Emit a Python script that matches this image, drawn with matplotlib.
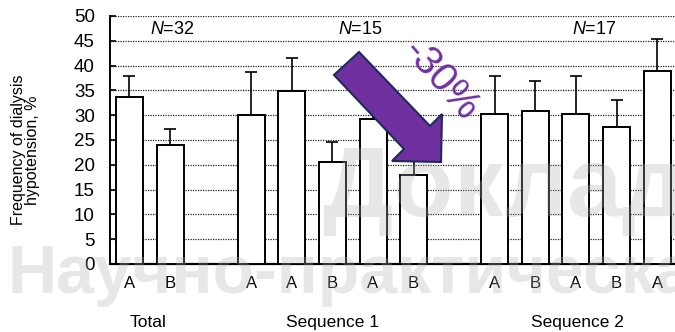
import numpy as np
import matplotlib.pyplot as plt
from matplotlib.patches import Polygon

plt.rcParams['font.family'] = ['Liberation Sans', 'DejaVu Sans']
plt.rcParams['mathtext.fontset'] = 'custom'
plt.rcParams['mathtext.it'] = 'Liberation Sans:italic'
plt.rcParams['mathtext.rm'] = 'Liberation Sans'

# Данні
slots = [0, 1, 3, 4, 5, 6, 7, 9, 10, 11, 12, 13]
labels = ['A', 'B', 'A', 'A', 'B', 'A', 'B', 'A', 'B', 'A', 'B', 'A']
values = [33.7, 23.9, 30.0, 34.9, 20.6, 29.2, 17.9, 30.3, 30.9, 30.2, 27.7, 39.0]
err_top = [38.0, 27.2, 38.8, 41.6, 24.5, 34.0, 21.0, 38.0, 36.8, 37.9, 33.1, 45.3]
groups = ['Total', 'Sequence 1', 'Sequence 2']
group_pos = [0.45, 5.0, 11.04]
n_labels = ['$N$=32', '$N$=15', '$N$=17']
n_pos = [1.05, 5.7, 11.46]

W, H = 675, 332
fig = plt.figure(figsize=(W / 100, H / 100), dpi=100)
ax = fig.add_axes([110 / W, 1 - 264 / H, (W - 110) / W, 248 / H])

errs = np.array(err_top) - np.array(values)
ax.bar(slots, values, width=0.665, color='white', edgecolor='black', linewidth=1.4, zorder=3)
ax.errorbar(slots, values, yerr=[np.zeros(len(values)), errs], fmt='none',
            ecolor='black', elinewidth=1.2, capsize=4, capthick=1.2, zorder=2)

ax.set_xlim(-0.48, 13.44)
ax.set_ylim(0, 50)
ax.set_yticks(np.arange(0, 51, 5))
ax.set_xticks(slots)
ax.set_xticklabels(labels)
ax.tick_params(axis='y', direction='in', length=4, width=1.2, labelsize=13.5, pad=11)
ax.tick_params(axis='x', length=0, labelsize=12, pad=9)
ax.yaxis.grid(True, linestyle=(0, (1, 1)), color='#222222', linewidth=0.9)
ax.set_axisbelow(True)
for s in ['top', 'right']:
    ax.spines[s].set_visible(False)
ax.spines['left'].set_linewidth(1.4)
ax.spines['bottom'].set_linewidth(1.6)

ax.set_ylabel('Frequency of dialysis\nhypotension, %', fontsize=11.5, linespacing=0.95)
ax.yaxis.set_label_coords(-0.124, 0.46)

for g, p in zip(groups, group_pos):
    ax.text(p, -0.234, g, transform=ax.get_xaxis_transform(), ha='center', va='center', fontsize=12.5)
for t, p in zip(n_labels, n_pos):
    ax.text(p, 47.3, t, ha='center', va='center', fontsize=13)

# Стрілка та підпис -30%
arrow_px = [(334, 75), (359, 52), (430, 126), (442, 114), (441, 162), (392, 161), (404, 149)]
arrow = Polygon([(x / W, 1 - y / H) for x, y in arrow_px], closed=True, transform=fig.transFigure,
                facecolor='#7030A0', edgecolor='#1f2a5c', linewidth=1.5, zorder=10)
fig.patches.append(arrow)
fig.text(441 / W, 1 - 80 / H, '-30%', rotation=-48.5, rotation_mode='anchor', ha='center', va='center',
         color='#7030A0', fontsize=29, zorder=11)

# Водяний знак
fig.text(322 / W, 1 - 216 / H, 'Доклад', fontsize=71, fontweight='bold', color='#b0b0b0',
         alpha=0.3, ha='left', va='baseline', zorder=20)
fig.text(8 / W, 1 - 293 / H, 'Научно-практическа', fontsize=49, fontweight='bold', color='#b0b0b0',
         alpha=0.3, ha='left', va='baseline', zorder=20)

fig.savefig('out.png', dpi=100)
